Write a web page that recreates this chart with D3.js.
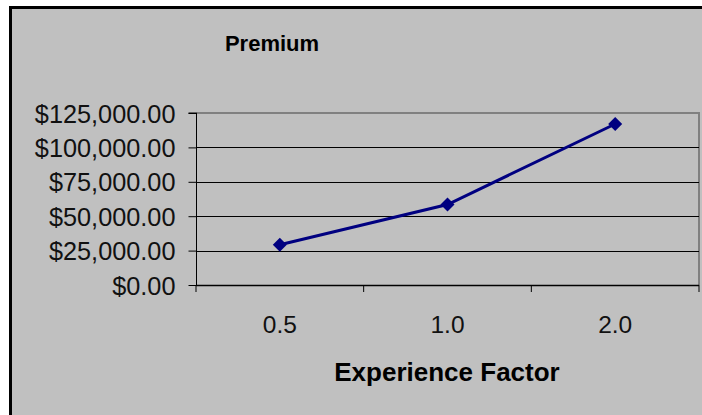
<!DOCTYPE html>
<html>
<head>
<meta charset="utf-8">
<script src="https://cdn.jsdelivr.net/npm/d3@7"></script>
<style>
  html, body { margin: 0; padding: 0; background: #ffffff; }
  svg { display: block; }
  text { font-family: "Liberation Sans", Arial, sans-serif; }
</style>
</head>
<body>
<svg id="chart" width="702" height="415"></svg>
<script>
// ---- Data ----
const categories = ["0.5", "1.0", "2.0"];
const premiums = [29250, 58500, 117000];
const yTicks = [0, 25000, 50000, 75000, 100000, 125000];
const chartTitle = "Premium";
const xTitle = "Experience Factor";

const svg = d3.select("#chart");
const W = 702, H = 415;

// chart background with black border on top and left
svg.append("rect").attr("x", 10).attr("y", 6).attr("width", W).attr("height", H)
  .attr("fill", "#c0c0c0");
svg.append("line").attr("x1", 10.5).attr("x2", 10.5).attr("y1", 6).attr("y2", H)
  .attr("stroke", "#000").attr("stroke-width", 3);
svg.append("line").attr("x1", 9).attr("x2", W).attr("y1", 7.5).attr("y2", 7.5)
  .attr("stroke", "#000").attr("stroke-width", 3);

const plot = { left: 196, right: 699, top: 113, bottom: 285 };

const x = d3.scaleBand().domain(categories).range([plot.left, plot.right]).padding(0);
const y = d3.scaleLinear().domain([0, 125000]).range([plot.bottom, plot.top]);

// plot area border (gray top & right)
svg.append("path")
  .attr("d", `M${plot.left},${plot.top}H${plot.right}V${plot.bottom}`)
  .attr("fill", "none").attr("stroke", "#808080").attr("stroke-width", 2);

// gridlines
svg.append("g").selectAll("line").data(yTicks.filter(v => v > 0 && v < 125000)).join("line")
  .attr("x1", plot.left).attr("x2", plot.right)
  .attr("y1", d => Math.round(y(d)) + 0.5).attr("y2", d => Math.round(y(d)) + 0.5)
  .attr("stroke", "#000").attr("stroke-width", 1);

// y axis
const fmt = v => "$" + d3.format(",.2f")(v);
const yAxis = d3.axisLeft(y).tickValues(yTicks).tickFormat(fmt).tickSize(8).tickPadding(13);
const gy = svg.append("g").attr("transform", `translate(${plot.left + 0.5},0)`).call(yAxis);
gy.select(".domain").attr("stroke", "#000").attr("d", `M-8,${plot.top}H0V${plot.bottom}`);
gy.selectAll(".tick line").attr("stroke", "#000");
gy.selectAll(".tick text").attr("font-size", 25.3).attr("fill", "#111")
  .attr("font-family", "Liberation Sans, Arial, sans-serif").attr("dy", "0.36em");

// x axis line & ticks at category boundaries
const boundaries = categories.map(c => x(c)).concat([x(categories[categories.length - 1]) + x.bandwidth()]);
svg.append("line").attr("x1", plot.left).attr("x2", plot.right)
  .attr("y1", plot.bottom + 0.5).attr("y2", plot.bottom + 0.5).attr("stroke", "#000").attr("stroke-width", 1.5);
svg.append("g").selectAll("line").data(boundaries).join("line")
  .attr("x1", d => d).attr("x2", d => d)
  .attr("y1", plot.bottom).attr("y2", plot.bottom + 7)
  .attr("stroke", "#000").attr("stroke-width", 1);

// x labels
svg.append("g").selectAll("text").data(categories).join("text")
  .attr("x", d => x(d) + x.bandwidth() / 2).attr("y", 333)
  .attr("text-anchor", "middle").attr("font-size", 24.5).attr("fill", "#111")
  .text(d => d);

// series line
const line = d3.line().x((d, i) => x(categories[i]) + x.bandwidth() / 2).y(d => y(d));
svg.append("path").datum(premiums).attr("d", line)
  .attr("fill", "none").attr("stroke", "#000080").attr("stroke-width", 3);

// square diamond markers
const r = 7;
svg.append("g").selectAll("path").data(premiums).join("path")
  .attr("transform", (d, i) => `translate(${x(categories[i]) + x.bandwidth() / 2},${y(d)})`)
  .attr("d", `M0,${-r}L${r},0L0,${r}L${-r},0Z`).attr("fill", "#000080");

// titles
svg.append("text").attr("x", 272).attr("y", 51).attr("text-anchor", "middle")
  .attr("font-size", 22).attr("font-weight", "bold").attr("fill", "#000").text(chartTitle);
svg.append("text").attr("x", 447).attr("y", 381).attr("text-anchor", "middle")
  .attr("font-size", 26).attr("font-weight", "bold").attr("fill", "#000").text(xTitle);
</script>
</body>
</html>
